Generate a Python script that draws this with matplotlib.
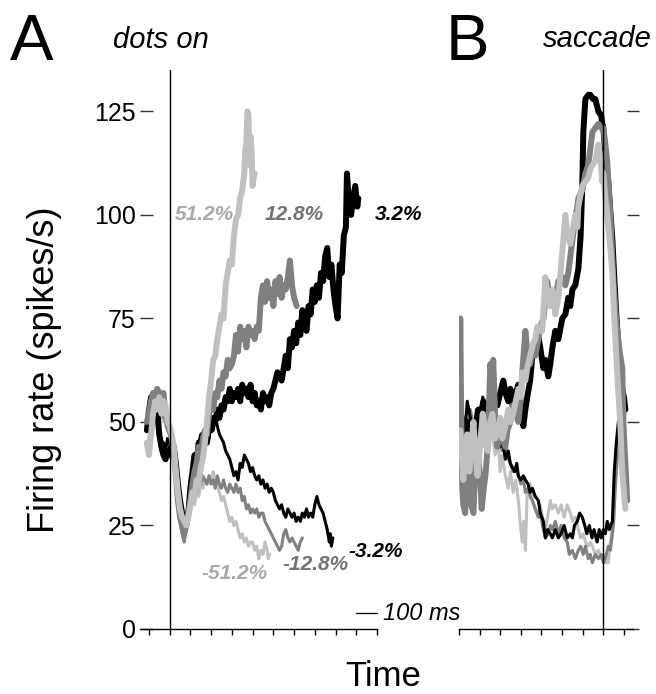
import numpy as np
import matplotlib
matplotlib.use("Agg")
import matplotlib.pyplot as plt

plt.rcParams["font.family"] = ["Liberation Sans", "DejaVu Sans"]

# ---- data: (time in ms, firing rate in spikes/s) ----
# Panel A, aligned to dots on
a_pref_51 = [(-110,45),(-100,42),(-90,47),(-80,52),(-70,55),(-60,53),(-50,56),(-40,52),(-30,55),(-20,54),(-10,50),(0,49),(10,47),(20,44),(30,38),(40,33),(50,29),(60,27),(70,26),(80,25),(90,27),(100,30),(110,33),(120,32),(130,36),(140,35),(150,39),(160,41),(170,45),(180,50),(190,56),(200,60),(210,65),(220,66),(230,70),(240,73),(250,76),(260,75),(270,83),(280,86),(290,89),(300,88),(310,95),(320,99),(330,100),(340,104),(350,106),(360,110),(365,116),(370,117),(375,125),(380,124),(385,112),(390,119),(395,116),(400,107),(405,109),(410,110)]
a_pref_12 = [(-110,50),(-100,52),(-90,55),(-80,57),(-70,56),(-60,58),(-50,57),(-40,55),(-30,57),(-20,52),(-10,49),(0,48),(10,46),(20,43),(30,37),(40,31),(50,27),(60,25),(70,23),(80,25),(90,28),(100,31),(110,35),(120,38),(130,40),(140,44),(150,42),(160,46),(170,48),(180,47),(190,52),(200,55),(210,53),(220,57),(230,56),(240,60),(250,58),(260,62),(270,61),(280,65),(290,63),(300,64),(310,66),(320,71),(330,67),(340,73),(350,70),(360,72),(370,68),(380,73),(390,71),(400,72),(410,70),(420,73),(430,72),(440,80),(450,83),(460,79),(470,84),(480,80),(490,82),(500,78),(510,84),(520,81),(530,85),(540,80),(550,83),(560,82),(570,85),(580,89),(590,83),(600,80),(613,78)]
a_pref_3 = [(-110,48),(-100,52),(-90,56),(-80,54),(-70,57),(-60,53),(-50,47),(-40,44),(-30,42),(-20,41),(-10,43),(0,42),(10,45),(20,44),(30,40),(40,35),(50,31),(60,28),(70,26),(80,25),(90,28),(100,34),(110,38),(120,42),(130,40),(140,45),(150,43),(160,47),(170,46),(180,45),(190,49),(200,48),(210,51),(220,50),(230,53),(240,51),(250,54),(260,53),(270,56),(280,55),(290,58),(300,55),(310,57),(320,56),(330,58),(340,55),(350,59),(360,57),(370,58),(380,56),(390,59),(400,55),(410,57),(420,54),(430,55),(440,53),(450,57),(460,55),(470,56),(480,54),(490,57),(500,58),(520,62),(540,60),(560,66),(570,63),(580,70),(590,68),(600,72),(610,69),(620,74),(630,71),(640,77),(650,74),(660,72),(670,78),(680,76),(690,82),(700,79),(710,83),(720,80),(730,86),(740,84),(750,90),(760,92),(770,85),(780,88),(790,82),(800,78),(810,75),(820,88),(830,86),(840,95),(850,97),(855,110),(865,103),(875,100),(885,104),(895,107),(905,102),(910,104)]
a_null_3 = [(-110,50),(-100,53),(-90,51),(-80,55),(-70,52),(-60,50),(-50,46),(-40,44),(-30,45),(-20,43),(-10,46),(0,45),(10,44),(20,41),(30,37),(40,33),(50,29),(60,26),(70,25),(80,27),(90,30),(100,33),(110,36),(120,40),(130,43),(140,45),(150,47),(160,46),(170,44),(180,48),(190,46),(200,50),(210,48),(220,51),(230,49),(240,47),(250,46),(260,45),(270,43),(280,42),(290,41),(300,39),(310,37),(320,38),(330,36),(340,40),(350,39),(360,42),(370,41),(380,40),(390,38),(400,39),(410,37),(420,36),(430,37),(440,35),(450,36),(460,34),(470,35),(480,33),(490,34),(500,33),(510,31),(520,30),(530,29),(540,30),(550,28),(560,27),(570,29),(580,28),(590,27),(600,28),(610,26),(620,27),(630,26),(640,28),(650,27),(660,29),(670,27),(680,28),(690,27),(700,30),(710,32),(720,30),(730,29),(740,28),(750,26),(760,24),(770,21),(775,23),(780,20),(787,22)]
a_null_12 = [(-110,52),(-100,55),(-90,53),(-80,57),(-70,54),(-60,56),(-50,53),(-40,55),(-30,51),(-20,52),(-10,48),(0,47),(10,45),(20,42),(30,36),(40,30),(50,26),(60,23),(70,21),(80,24),(90,27),(100,30),(110,32),(120,34),(130,33),(140,36),(150,35),(160,37),(170,36),(180,35),(190,37),(200,35),(210,36),(220,34),(230,37),(240,35),(250,34),(260,36),(270,34),(280,33),(290,35),(300,34),(310,33),(320,35),(330,33),(340,34),(350,31),(360,32),(370,29),(380,30),(390,28),(400,29),(410,28),(420,29),(430,27),(440,28),(450,28),(460,26),(470,25),(480,24),(490,23),(500,22),(510,21),(520,20),(530,19),(540,20),(550,23),(560,24),(570,22),(580,21),(590,22),(600,21),(610,20),(620,19),(630,21),(640,22)]
a_null_51 = [(-110,44),(-100,46),(-90,50),(-80,48),(-70,52),(-60,54),(-50,51),(-40,53),(-30,50),(-20,52),(-10,49),(0,47),(10,45),(20,41),(30,36),(40,31),(50,27),(60,25),(70,24),(80,26),(90,28),(100,29),(110,31),(120,30),(130,33),(140,32),(150,35),(160,34),(170,36),(180,35),(190,37),(200,36),(210,38),(220,36),(230,35),(240,33),(250,31),(260,32),(270,30),(280,28),(290,26),(300,27),(310,25),(320,26),(330,24),(340,22),(350,23),(360,21),(370,22),(380,20),(390,21),(400,21),(410,19),(420,20),(430,17),(440,19),(450,18),(460,21),(470,19),(475,17),(483,18)]

# Panel B, aligned to saccade
b_pref_3 = [(-703,46),(-694,55),(-684,47),(-679,41),(-670,45),(-660,50),(-655,49),(-645,40),(-635,44),(-621,46),(-606,53),(-597,51),(-582,55),(-570,53),(-563,50),(-548,56),(-538,58),(-525,55),(-514,54),(-500,57),(-485,60),(-475,57),(-461,55),(-451,58),(-437,53),(-425,57),(-412,59),(-400,54),(-388,49),(-378,53),(-369,56),(-355,60),(-344,66),(-330,69),(-320,72),(-306,68),(-291,63),(-281,65),(-267,61),(-257,64),(-247,68),(-233,72),(-218,70),(-199,75),(-184,76),(-170,80),(-160,78),(-150,82),(-136,83),(-121,87),(-110,95),(-102,107),(-97,120),(-87,128),(-73,129),(-63,129),(-50,128),(-39,128),(-24,125),(-10,124),(-5,122),(0,121),(10,115),(24,108),(34,101),(44,94),(53,85),(63,76),(73,68),(82,63),(92,58),(100,56),(107,53)]
b_pref_12 = [(-703,40),(-698,50),(-694,75),(-690,55),(-684,34),(-679,30),(-670,28),(-660,38),(-650,42),(-640,30),(-630,28),(-621,40),(-610,44),(-597,36),(-590,29),(-582,33),(-570,38),(-560,45),(-548,64),(-540,60),(-534,65),(-525,52),(-514,44),(-505,48),(-500,50),(-490,46),(-475,44),(-465,48),(-451,50),(-440,54),(-425,52),(-412,50),(-400,56),(-393,62),(-378,72),(-369,67),(-355,64),(-340,68),(-330,66),(-315,70),(-306,73),(-290,75),(-272,84),(-260,80),(-247,78),(-233,80),(-218,84),(-199,85),(-184,83),(-170,86),(-155,92),(-136,99),(-121,104),(-102,106),(-87,110),(-73,112),(-63,116),(-53,120),(-39,121),(-24,122),(-10,121),(0,121),(10,117),(19,113),(34,100),(49,84),(63,74),(82,66),(92,63),(97,50),(107,40),(116,31)]
b_pref_51 = [(-703,44),(-694,48),(-684,40),(-679,36),(-670,42),(-660,47),(-650,38),(-640,44),(-630,50),(-621,43),(-610,37),(-597,45),(-585,52),(-570,47),(-560,43),(-548,50),(-538,52),(-525,46),(-509,48),(-500,51),(-490,46),(-475,49),(-461,53),(-451,50),(-437,52),(-425,55),(-412,58),(-400,56),(-393,62),(-378,60),(-369,63),(-355,66),(-340,69),(-330,70),(-320,73),(-306,72),(-296,72),(-281,85),(-272,80),(-257,78),(-247,82),(-233,76),(-218,80),(-199,91),(-184,100),(-175,95),(-160,93),(-150,96),(-136,100),(-126,97),(-121,102),(-110,105),(-102,107),(-87,108),(-73,109),(-63,111),(-53,112),(-39,113),(-24,117),(-15,114),(-5,108),(0,110),(10,104),(19,100),(34,92),(44,86),(53,75),(63,66),(73,57),(82,50),(92,38),(107,29)]
b_null_3 = [(-703,50),(-694,45),(-684,52),(-670,48),(-660,55),(-645,51),(-630,47),(-615,53),(-600,50),(-585,56),(-570,52),(-555,55),(-540,50),(-525,53),(-509,48),(-500,44),(-490,46),(-475,41),(-461,43),(-451,40),(-441,39),(-430,38),(-420,40),(-412,37),(-400,36),(-388,37),(-378,36),(-365,35),(-355,33),(-344,34),(-330,32),(-315,31),(-306,28),(-291,26),(-281,22),(-270,24),(-257,23),(-247,22),(-233,24),(-218,22),(-205,23),(-190,25),(-175,22),(-160,23),(-150,22),(-140,25),(-126,26),(-115,28),(-102,27),(-90,25),(-80,23),(-68,25),(-55,22),(-45,24),(-30,21),(-20,24),(-10,22),(0,24),(10,23),(19,26),(29,24),(44,26),(53,38),(63,45),(73,50),(82,53),(92,57)]
b_null_12 = [(-703,46),(-694,51),(-684,44),(-670,50),(-660,47),(-645,53),(-630,49),(-615,46),(-600,52),(-585,48),(-570,53),(-555,49),(-540,52),(-525,47),(-509,50),(-500,45),(-490,43),(-475,44),(-461,41),(-451,40),(-437,38),(-425,39),(-412,37),(-400,35),(-388,36),(-378,33),(-365,34),(-355,32),(-344,31),(-330,29),(-315,27),(-306,28),(-291,24),(-281,22),(-267,23),(-257,25),(-247,24),(-233,26),(-218,23),(-205,25),(-190,22),(-175,21),(-165,18),(-150,19),(-136,17),(-121,19),(-110,20),(-97,18),(-87,20),(-73,17),(-63,18),(-53,16),(-39,18),(-24,17),(-10,18),(0,16),(10,17),(24,20),(34,19),(49,25),(58,34),(73,45),(82,55),(92,60),(97,58)]
b_null_51 = [(-703,42),(-694,48),(-684,38),(-670,45),(-660,50),(-645,42),(-630,47),(-615,40),(-600,48),(-585,44),(-570,50),(-555,46),(-540,49),(-525,42),(-509,45),(-500,38),(-490,42),(-475,37),(-461,34),(-451,38),(-437,33),(-425,36),(-412,31),(-400,24),(-393,21),(-385,26),(-378,19),(-369,33),(-355,35),(-344,31),(-330,29),(-315,27),(-306,30),(-291,26),(-281,24),(-267,28),(-257,31),(-247,29),(-233,30),(-218,28),(-205,30),(-190,27),(-175,30),(-160,28),(-150,26),(-136,27),(-121,24),(-110,22),(-97,23),(-87,21),(-73,20),(-63,21),(-53,20),(-39,18),(-24,19),(-10,17),(0,18),(10,16),(24,16),(34,21),(49,26),(58,36),(73,46),(82,60),(92,57),(107,52)]

y_ticks = [0, 25, 50, 75, 100, 125]
a_xticks = list(range(-100, 1001, 100))
b_xticks = list(range(-700, 101, 100))

BLACK, GRAY, LIGHT = "#000000", "#808080", "#c0c0c0"
THICK, THIN = 4.3, 2.2

fig = plt.figure(figsize=(6.56, 6.94), dpi=100)
W, H = 656, 694


def px_axes(left, right, top, bottom):
    return fig.add_axes([left / W, 1 - bottom / H, (right - left) / W, (bottom - top) / H])


def draw(ax, series, color, lw):
    arr = np.array(series, dtype=float)
    ax.plot(arr[:, 0], arr[:, 1], color=color, lw=lw, solid_joinstyle="round",
            solid_capstyle="round")


def style(ax, xticks):
    for s in ("left", "top", "right"):
        ax.spines[s].set_visible(False)
    ax.spines["bottom"].set_linewidth(1.0)
    ax.set_ylim(0, 135)
    ax.set_yticks(y_ticks)
    ax.set_xticks(xticks)
    ax.set_xticklabels([])
    ax.tick_params(axis="x", direction="out", length=4, width=1)
    ax.axvline(0, color="black", lw=1.0, zorder=5)


# ---- panel A ----
axA = px_axes(140, 377, 70, 629)
axA.set_xlim(-143, 1000)
for s, c in ((a_null_51, LIGHT), (a_null_12, GRAY), (a_null_3, BLACK)):
    draw(axA, s, c, THIN)
for s, c in ((a_pref_3, BLACK), (a_pref_12, GRAY), (a_pref_51, LIGHT)):
    draw(axA, s, c, THICK)
style(axA, a_xticks)
axA.tick_params(axis="y", direction="in", length=9, width=1, pad=3,
                labelsize=18, color="#333333")

lab = dict(fontsize=15, fontweight="bold", style="italic", va="center", ha="left")
axA.text(24, 100, "51.2%", color="#a9a9a9", **lab)
axA.text(459, 100, "12.8%", color="#737373", **lab)
axA.text(990, 100, "3.2%", color="black", **lab)
axA.text(860, 18.6, "-3.2%", color="black", **lab)
axA.text(546, 15.5, "-12.8%", color="#737373", **lab)
axA.text(155, 13.5, "-51.2%", color="#a9a9a9", **lab)

# 100 ms scale bar
axA.plot([900, 1000], [3.8, 3.8], color="black", lw=0.9, clip_on=False)
axA.text(1030, 3.8, "100 ms", fontsize=17, style="italic", va="center", ha="left")

# ---- panel B ----
axB = px_axes(459, 633, 70, 629)
axB.set_xlim(-700, 144)
for s, c in ((b_null_51, LIGHT), (b_null_12, GRAY), (b_null_3, BLACK)):
    draw(axB, s, c, THIN)
for s, c in ((b_pref_3, BLACK), (b_pref_12, GRAY), (b_pref_51, LIGHT)):
    draw(axB, s, c, THICK)
style(axB, b_xticks)
axB.yaxis.tick_right()
axB.tick_params(axis="y", direction="inout", length=8, width=1,
                labelright=False, color="#333333")

# ---- figure text ----
fig.text(10 / W, 1 - 60 / H, "A", fontsize=47, va="baseline", ha="left")
fig.text(446 / W, 1 - 60 / H, "B", fontsize=47, va="baseline", ha="left")
fig.text(113 / W, 1 - 48 / H, "dots on", fontsize=21, style="italic",
         va="baseline", ha="left")
fig.text(652 / W, 1 - 47 / H, "saccade", fontsize=21, style="italic",
         va="baseline", ha="right")
fig.text(45 / W, 1 - 370 / H, "Firing rate (spikes/s)", fontsize=26,
         rotation=90, va="center", ha="center")
fig.text(383 / W, 1 - 686 / H, "Time", fontsize=25, va="baseline", ha="center")

fig.savefig("out.png", dpi=100)
